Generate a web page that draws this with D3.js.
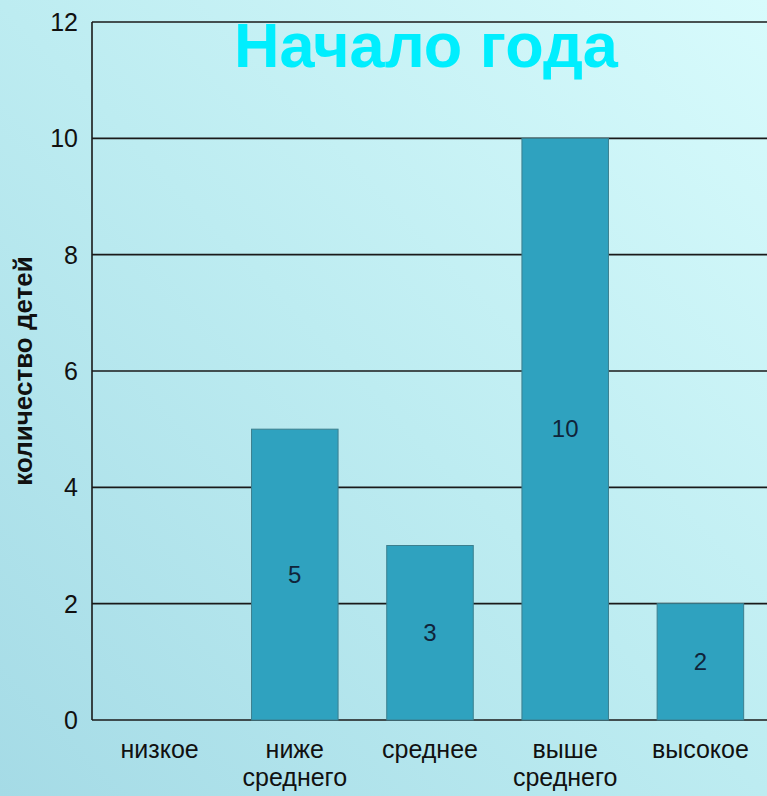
<!DOCTYPE html>
<meta charset="utf-8">
<style>
body { margin: 0; }
svg { display: block; font-family: "Liberation Sans", Arial, sans-serif; }
.grid line { stroke: #1a1a1a; stroke-width: 1.6px; }
.tick-label { font-size: 25px; fill: #111; }
.cat-label { font-size: 25px; fill: #111; }
.val-label { font-size: 24px; fill: #10243a; }
</style>
<svg width="767" height="796"></svg>
<script src="https://d3js.org/d3.v7.min.js"></script>
<script>

var categories = [["низкое"], ["ниже", "среднего"], ["среднее"], ["выше", "среднего"], ["высокое"]];
var values = [0, 5, 3, 10, 2];
var yTicks = [0, 2, 4, 6, 8, 10, 12];

var svg = d3.select("svg"),
    width = +svg.attr("width"),
    height = +svg.attr("height");

// background gradient
var defs = svg.append("defs");
var grad = defs.append("linearGradient")
    .attr("id", "bg")
    .attr("x1", "0%").attr("y1", "100%")
    .attr("x2", "100%").attr("y2", "0%");
grad.append("stop").attr("offset", "0%").attr("stop-color", "#a5dbe6");
grad.append("stop").attr("offset", "50%").attr("stop-color", "#bdecf1");
grad.append("stop").attr("offset", "100%").attr("stop-color", "#d8fbfc");

svg.append("rect")
    .attr("width", width)
    .attr("height", height)
    .attr("fill", "url(#bg)");

var plotLeft = 92, plotTop = 22, plotBottom = 720, plotRight = 768;

var x = d3.scaleBand()
    .domain(d3.range(categories.length))
    .range([plotLeft, plotRight])
    .paddingInner(0.36)
    .paddingOuter(0.18);

var y = d3.scaleLinear()
    .domain([0, 12])
    .range([plotBottom, plotTop]);

// grid lines
var grid = svg.append("g").attr("class", "grid");
grid.selectAll("line")
    .data(yTicks)
    .enter().append("line")
    .attr("x1", plotLeft)
    .attr("x2", width)
    .attr("y1", function(d) { return y(d); })
    .attr("y2", function(d) { return y(d); });

grid.append("line")
    .attr("x1", plotLeft).attr("x2", plotLeft)
    .attr("y1", plotTop).attr("y2", plotBottom);

// bars
svg.selectAll(".bar")
    .data(values)
    .enter().append("rect")
    .attr("class", "bar")
    .attr("x", function(d, i) { return x(i); })
    .attr("width", x.bandwidth())
    .attr("y", function(d) { return y(d); })
    .attr("height", function(d) { return y(0) - y(d); })
    .attr("fill", "#2fa2bf")
    .attr("stroke", "#3c7f8e")
    .attr("stroke-width", 1)
    .style("display", function(d) { return d > 0 ? null : "none"; });

// value labels
svg.selectAll(".val-label")
    .data(values)
    .enter().append("text")
    .attr("class", "val-label")
    .attr("text-anchor", "middle")
    .attr("x", function(d, i) { return x(i) + x.bandwidth() / 2; })
    .attr("y", function(d) { return (y(d) + y(0)) / 2 + 8; })
    .text(function(d) { return d > 0 ? d : ""; });

// y tick labels
svg.selectAll(".tick-label")
    .data(yTicks)
    .enter().append("text")
    .attr("class", "tick-label")
    .attr("text-anchor", "end")
    .attr("x", 78)
    .attr("y", function(d) { return y(d) + 9; })
    .text(function(d) { return d; });

// category labels
var cat = svg.selectAll(".cat-label")
    .data(categories)
    .enter().append("text")
    .attr("class", "cat-label")
    .attr("text-anchor", "middle")
    .attr("x", function(d, i) { return x(i) + x.bandwidth() / 2; })
    .attr("y", 758);
cat.selectAll("tspan")
    .data(function(d) { return d; })
    .enter().append("tspan")
    .attr("x", function() { return d3.select(this.parentNode).attr("x"); })
    .attr("dy", function(d, i) { return i ? 28 : 0; })
    .text(function(d) { return d; });

// axis title
svg.append("text")
    .attr("transform", "translate(32," + 371 + ") rotate(-90)")
    .attr("text-anchor", "middle")
    .style("font-size", "26px")
    .style("font-weight", "bold")
    .attr("fill", "#111")
    .text("количество детей");

// chart title
svg.append("text")
    .attr("x", 426)
    .attr("y", 67)
    .attr("text-anchor", "middle")
    .style("font-size", "63px")
    .style("font-weight", "bold")
    .attr("fill", "#00eefe")
    .text("Начало года");

</script>
